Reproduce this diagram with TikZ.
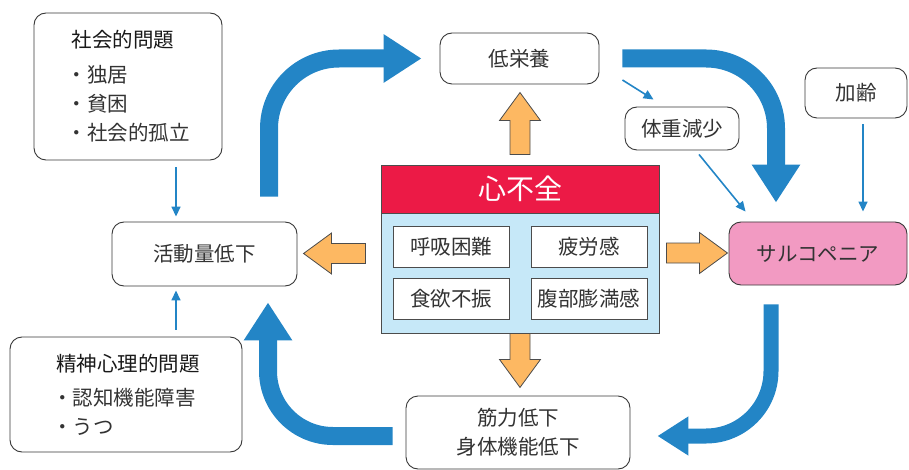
\documentclass[tikz,border=0pt]{standalone}
\usepackage{fontspec}
\setmainfont{Noto Sans CJK JP}
\usetikzlibrary{arrows.meta}

\definecolor{hfred}{HTML}{EC1A46}
\definecolor{hfblue}{HTML}{C6E8F8}
\definecolor{sarcopink}{HTML}{F29AC2}
\definecolor{fatorange}{HTML}{FDB862}
\definecolor{cycleblue}{HTML}{2385C6}
\definecolor{textgray}{HTML}{333333}

\tikzset{
  box/.style={draw=black!78, line width=0.9pt, rounded corners=12pt, fill=white,
    text=textgray, inner sep=0pt, font=\fontsize{20.5pt}{29pt}\selectfont},
  symptom/.style={draw=black!70, line width=0.9pt, fill=white, minimum width=116pt,
    minimum height=41pt, inner sep=0pt, text=textgray, font=\fontsize{20.5pt}{24pt}\selectfont},
  bigarrow/.style={cycleblue, line width=18pt, rounded corners=70pt,
    -{Triangle[width=46pt,length=38pt]}},
  thinarrow/.style={cycleblue, line width=1.6pt, -{Triangle[width=9pt,length=10pt]}},
  fatarrow/.style={draw=black!70, line width=0.8pt, fill=fatorange, line join=miter},
  fat/.pic={\draw[fatarrow] (0,-10) -- (#1-28,-10) -- (#1-28,-20.5) -- (#1,0)
    -- (#1-28,20.5) -- (#1-28,10) -- (0,10) -- cycle;}
}

\begin{document}
\begin{tikzpicture}[x=1pt, y=-1pt]
    \useasboundingbox (0,0) rectangle (909,470);

    % the boxes round the cycle
    \node[box, minimum width=188pt, minimum height=147pt, align=left] (shakai) at (128,86.5)
        {\hspace{5pt}\textcolor{black!90}{社会的問題}\\[6pt]・独居\\・貧困\\・社会的孤立};
    \node[box, minimum width=185pt, minimum height=64pt] (act) at (204.5,254) {活動量低下};
    \node[box, minimum width=232pt, minimum height=115pt, align=left] (seishin) at (126,394.5)
        {\hspace{4pt}\textcolor{black!90}{精神心理的問題}\\[5pt]・認知機能障害\\・うつ};
    \node[box, minimum width=159pt, minimum height=51pt] (eiyo) at (519.5,58.5) {低栄養};
    \node[box, minimum width=114pt, minimum height=43pt] (taiju) at (682,128.5) {体重減少};
    \node[box, minimum width=102pt, minimum height=50pt] (karei) at (856,93) {加齢};
    \node[box, fill=sarcopink, minimum width=178pt, minimum height=63pt] (sarco) at (818,253.5)
        {サルコペニア};
    \node[box, minimum width=224pt, minimum height=73pt, align=center] (kinryoku) at (518,432.5)
        {筋力低下\\身体機能低下};

    % the heart failure box in the middle
    \node[draw=black!70, line width=0.9pt, fill=hfblue, minimum width=278pt,
        minimum height=168pt] (hf) at (520,249) {};
    \node[draw=black!70, line width=0.9pt, fill=hfred, text=white, minimum width=278pt,
        minimum height=48pt, font=\fontsize{28pt}{32pt}\selectfont] (hfhead) at (520,189) {心不全};
    \node[symptom] (kokyu) at (451,246.5) {呼吸困難};
    \node[symptom] (hirou) at (589,246.5) {疲労感};
    \node[symptom] (shokuyoku) at (451,298.5) {食欲不振};
    \node[symptom] (fukubu) at (589,298.5) {腹部膨満感};

    % the orange arrows out of the heart failure box
    \pic[rotate=90] at ([yshift=10pt]hf.north) {fat=62};
    \pic[rotate=180] at ([xshift=-15pt,yshift=-4.5pt]hf.west) {fat=62};
    \pic at ([xshift=7pt,yshift=-4pt]hf.east) {fat=61};
    \pic[rotate=-90] at (hf.south) {fat=54};

    % the big blue cycle
    \draw[bigarrow] ([xshift=64.5pt,yshift=25pt]act.north) |- ([xshift=-18pt]eiyo.west);
    \draw[bigarrow] ([xshift=23pt]eiyo.east) -| ([xshift=-42pt,yshift=19pt]sarco.north);
    \draw[bigarrow, line width=15pt, rounded corners=65pt, -{Triangle[width=37pt,length=31pt]}]
        ([xshift=-47pt,yshift=-19pt]sarco.south) |- ([xshift=27pt,yshift=-3.5pt]kinryoku.east);
    \draw[bigarrow, rounded corners=65pt]
        ([xshift=-13pt,yshift=-3.5pt]kinryoku.west) -| ([xshift=63.5pt,yshift=-16pt]act.south);

    % the thin blue arrows
    \draw[thinarrow] ([xshift=48pt,yshift=-7pt]shakai.south) -- ([xshift=-28.5pt,yshift=5pt]act.north);
    \draw[thinarrow] ([xshift=50pt,yshift=7pt]seishin.north) -- ([xshift=-28.5pt,yshift=-4pt]act.south);
    \draw[thinarrow] ([xshift=23pt,yshift=-21.5pt]eiyo.east) -- ([xshift=29pt,yshift=7pt]taiju.north west);
    \draw[thinarrow] ([xshift=17pt,yshift=-4pt]taiju.south) -- ([xshift=17pt,yshift=10pt]sarco.north west);
    \draw[thinarrow] ([xshift=7pt,yshift=-6pt]karei.south) -- ([xshift=45pt,yshift=10pt]sarco.north);
\end{tikzpicture}
\end{document}
